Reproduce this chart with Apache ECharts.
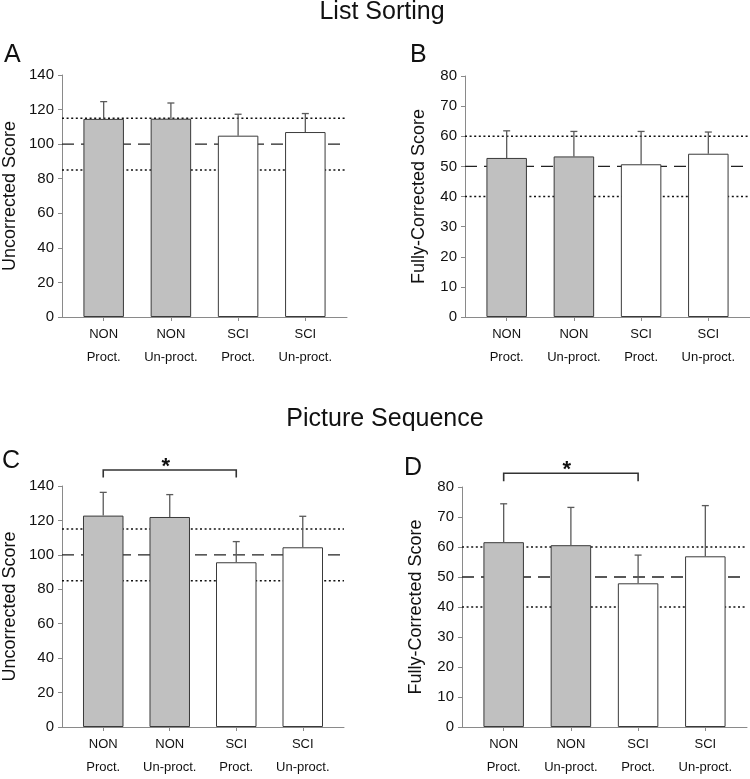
<!DOCTYPE html>
<html><head><meta charset="utf-8">
<script src="https://cdn.jsdelivr.net/npm/echarts@6/dist/echarts.min.js"></script>
<style>html,body{margin:0;padding:0;background:#fff}#c{width:750px;height:779px}</style>
</head><body><div id="c"></div>
<script>
// ---- data ----
const groups = ['NON', 'NON', 'SCI', 'SCI'];
const conditions = ['Proct.', 'Un-proct.', 'Proct.', 'Un-proct.'];

const listUncorrMean = [114.6, 114.7, 104.9, 107.0];
const listUncorrErr  = [10.0, 9.1, 12.4, 10.7];
const listCorrMean   = [52.8, 53.3, 50.7, 54.2];
const listCorrErr    = [9.0, 8.3, 10.9, 7.2];
const picUncorrMean  = [122.8, 122.0, 95.7, 104.4];
const picUncorrErr   = [13.5, 13.0, 12.0, 18.0];
const picCorrMean    = [61.6, 60.6, 47.9, 56.9];
const picCorrErr     = [12.8, 12.6, 9.4, 16.9];

const uncorrTicks = [0, 140, 20];   // min, max, step
const corrTicks   = [0, 80, 10];
const uncorrRefLow = 85, uncorrRefMid = 100, uncorrRefHigh = 115;
const corrRefLow = 40, corrRefMid = 50, corrRefHigh = 60;

// significance bracket: [fromIndex, toIndex, bracketTop, bracketEnd]
const picUncorrSig = [0, 2, 149.3, 144.9];
const picCorrSig   = [0, 2, 84.6, 81.9];

const sectionTitles = ['List Sorting', 'Picture Sequence'];
const panelLetters = ['A', 'B', 'C', 'D'];
const yNames = ['Uncorrected Score', 'Fully-Corrected Score', 'Uncorrected Score', 'Fully-Corrected Score'];

// ---- layout / style ----
const FONT = 'Liberation Sans';
const XMIN = -0.62, XMAX = 3.62;
const fills = ['#c0c0c0', '#c0c0c0', '#ffffff', '#ffffff'];
const panels = [
  {grid: {left: 61, top: 75, width: 286, height: 242}, mean: listUncorrMean, err: listUncorrErr, ticks: uncorrTicks, refs: [uncorrRefLow, uncorrRefMid, uncorrRefHigh], sig: null, nameGap: 43},
  {grid: {left: 465, top: 76, width: 285, height: 241}, mean: listCorrMean, err: listCorrErr, ticks: corrTicks, refs: [corrRefLow, corrRefMid, corrRefHigh], sig: null, nameGap: 37},
  {grid: {left: 58, top: 486, width: 286, height: 241}, mean: picUncorrMean, err: picUncorrErr, ticks: uncorrTicks, refs: [uncorrRefLow, uncorrRefMid, uncorrRefHigh], sig: picUncorrSig, nameGap: 43},
  {grid: {left: 462, top: 487, width: 285, height: 241}, mean: picCorrMean, err: picCorrErr, ticks: corrTicks, refs: [corrRefLow, corrRefMid, corrRefHigh], sig: picCorrSig, nameGap: 37}
];

const grid = [], xAxis = [], yAxis = [], series = [];
panels.forEach((p, k) => {
  grid.push(p.grid);
  xAxis.push({
    type: 'value', gridIndex: k, min: XMIN, max: XMAX,
    axisLine: {show: true, onZero: false, lineStyle: {color: '#8a8a8a', width: 1}},
    axisTick: {show: true, customValues: [0, 1, 2, 3], length: 4, lineStyle: {color: '#8a8a8a'}},
    axisLabel: {
      customValues: [0, 1, 2, 3], margin: 6,
      formatter: v => groups[Math.round(v)] + '\n' + conditions[Math.round(v)],
      fontFamily: FONT, fontSize: 13, color: '#111', lineHeight: 23
    },
    splitLine: {show: false}
  });
  yAxis.push({
    type: 'value', gridIndex: k, min: p.ticks[0], max: p.ticks[1], interval: p.ticks[2],
    name: yNames[k], nameLocation: 'middle', nameRotate: 90, nameGap: p.nameGap,
    nameTextStyle: {fontFamily: FONT, fontSize: 18, color: '#111'},
    axisLine: {show: true, onZero: false, lineStyle: {color: '#8a8a8a', width: 1}},
    axisTick: {show: true, length: 4, lineStyle: {color: '#8a8a8a'}},
    axisLabel: {fontFamily: FONT, fontSize: 15, color: '#111', margin: 8},
    splitLine: {show: false}
  });
  // reference lines
  p.refs.forEach((r, j) => {
    series.push({
      type: 'line', xAxisIndex: k, yAxisIndex: k, silent: true, z: 1,
      symbol: 'none', animation: false,
      data: [[XMIN, r], [XMAX, r]],
      lineStyle: j === 1 ? {color: '#222', width: 1.3, type: [12, 7]}
                         : {color: '#111', width: 1.6, type: [2, 2.6]}
    });
  });
  // bars
  series.push({
    type: 'bar', xAxisIndex: k, yAxisIndex: k, z: 3, barWidth: 40.5, animation: false,
    data: p.mean.map((v, i) => [i, v]),
    itemStyle: {color: prm => fills[prm.dataIndex], borderColor: '#3a3a3a', borderWidth: 1}
  });
  // error bars (upper only)
  series.push({
    type: 'custom', xAxisIndex: k, yAxisIndex: k, z: 4, animation: false,
    data: p.mean.map((v, i) => [i, v, p.err[i]]),
    renderItem: (params, api) => {
      const x = api.value(0), m = api.value(1), e = api.value(2);
      const a = api.coord([x, m]), b = api.coord([x, m + e]);
      const st = {stroke: '#5a5a5a', lineWidth: 1.3};
      return {type: 'group', children: [
        {type: 'line', shape: {x1: a[0], y1: a[1], x2: b[0], y2: b[1]}, style: st},
        {type: 'line', shape: {x1: b[0] - 3.5, y1: b[1], x2: b[0] + 3.5, y2: b[1]}, style: st}
      ]};
    }
  });
  // significance bracket
  if (p.sig) {
    series.push({
      type: 'custom', xAxisIndex: k, yAxisIndex: k, z: 5, animation: false, clip: false,
      data: [p.sig],
      renderItem: (params, api) => {
        const x0 = api.value(0), x1 = api.value(1), yt = api.value(2), ye = api.value(3);
        const p0 = api.coord([x0, yt]), p1 = api.coord([x1, yt]);
        const e0 = api.coord([x0, ye]), e1 = api.coord([x1, ye]);
        const st = {stroke: '#333', lineWidth: 1.6, fill: null};
        return {type: 'group', children: [
          {type: 'polyline', shape: {points: [e0, p0, p1, e1]}, style: st},
          {type: 'text', style: {text: '*', x: (p0[0] + p1[0]) / 2 - 4, y: p0[1] - 3,
            align: 'center', verticalAlign: 'middle', font: 'bold 22px "' + FONT + '"', fill: '#111'}}
        ]};
      }
    });
  }
});

const title = [
  {text: sectionTitles[0], left: 382, top: 0, textAlign: 'center', padding: 0},
  {text: sectionTitles[1], left: 385, top: 407, textAlign: 'center', padding: 0},
  {text: panelLetters[0], left: 4, top: 43, padding: 0},
  {text: panelLetters[1], left: 410, top: 43, padding: 0},
  {text: panelLetters[2], left: 2, top: 449, padding: 0},
  {text: panelLetters[3], left: 404, top: 456, padding: 0}
].map(t => Object.assign(t, {textStyle: {fontFamily: FONT, fontSize: 25, fontWeight: 'normal', color: '#111'}}));

const chart = echarts.init(document.getElementById('c'), null, {renderer: 'canvas'});
chart.setOption({animation: false, backgroundColor: '#fff', title, grid, xAxis, yAxis, series});
</script></body></html>
